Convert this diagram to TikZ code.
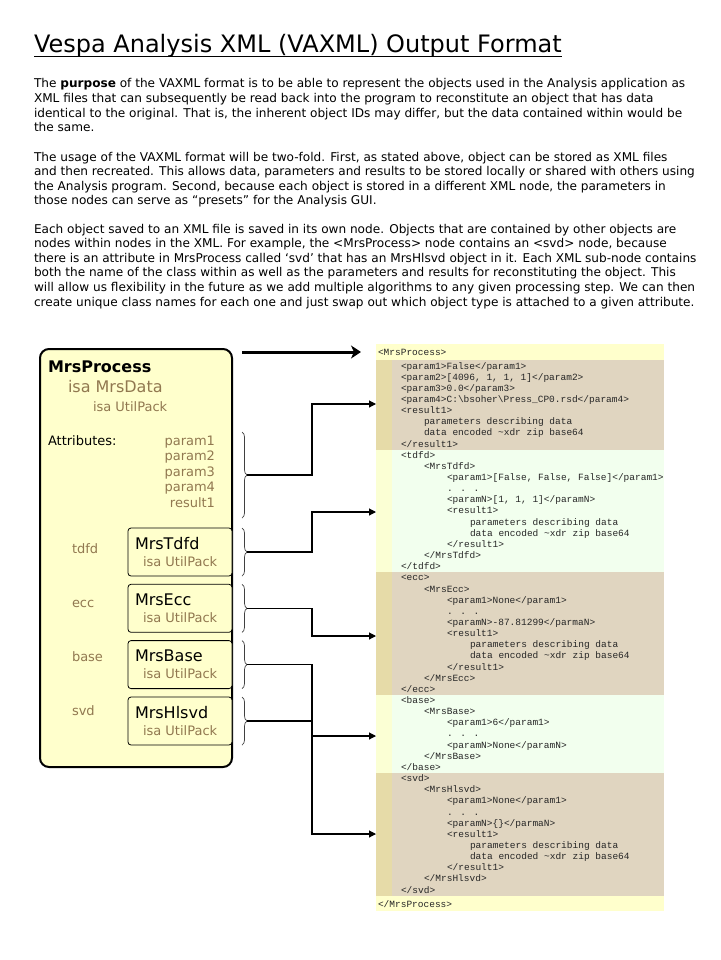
\documentclass[tikz,border=0pt]{standalone}
\usepackage{fontspec}
\setmainfont{DejaVu Sans}
\newfontfamily\xmlfont{Liberation Mono}
\usetikzlibrary{positioning, calc, arrows.meta, decorations.pathreplacing}

\definecolor{boxfill}{RGB}{255,255,204}
\definecolor{tantext}{RGB}{145,120,80}
\definecolor{xmltop}{RGB}{255,255,204}
\definecolor{xmltan}{RGB}{224,213,192}
\definecolor{xmltanstrip}{RGB}{230,219,168}
\definecolor{xmlgreen}{RGB}{242,255,238}
\definecolor{xmlgreenstrip}{RGB}{251,255,212}

\begin{document}
\begin{tikzpicture}[x=1pt, y=-1pt,
  every node/.style={inner sep=0pt, outer sep=0pt},
  para/.style={anchor=base west, align=left, font=\fontsize{12.1}{14.6}\selectfont},
  bigname/.style={anchor=base west, font=\fontsize{16}{18}\selectfont},
  small/.style={anchor=base west, font=\fontsize{13}{15}\selectfont},
  isa/.style={small, text=tantext},
  attr/.style={anchor=base east, font=\fontsize{13}{15}\selectfont, text=tantext},
  subbox/.style={draw, line width=0.8pt, rounded corners=3pt, fill=boxfill, anchor=north west, minimum width=104pt, minimum height=48pt},
  xmltxt/.style={anchor=base west, font=\xmlfont\fontsize{9.5}{11}\selectfont, text=black!85},
  bracket/.style={decorate, decoration={brace, amplitude=5pt}, line width=0.7pt, black!75},
  conn/.style={line width=1.1pt, -{Triangle[length=7pt, width=7pt]}}
]
  \fill[white] (0,0) rectangle (720,960);
  \useasboundingbox (0,0) rectangle (720,960);

  % title and text (para nodes sit on their last line)
  \node[anchor=base west, font=\fontsize{24}{28}\selectfont] (title) at (34,53) {Vespa Analysis XML (VAXML) Output Format};
  \draw[line width=1pt] ([yshift=-4pt]title.base west) -- ([yshift=-4pt]title.base east);

  \node[para] (purpose) at (34,131.8) {The \textbf{purpose} of the VAXML format is to be able to represent the objects used in the Analysis application as\\
    XML files that can subsequently be read back into the program to reconstitute an object that has data\\
    identical to the original. That is, the inherent object IDs may differ, but the data contained within would be\\
    the same.};
  \node[para] (usage) at (34,204.8) {The usage of the VAXML format will be two-fold. First, as stated above, object can be stored as XML files\\
    and then recreated. This allows data, parameters and results to be stored locally or shared with others using\\
    the Analysis program. Second, because each object is stored in a different XML node, the parameters in\\
    those nodes can serve as “presets” for the Analysis GUI.};
  \node[para] (nesting) at (34,306) {Each object saved to an XML file is saved in its own node. Objects that are contained by other objects are\\
    nodes within nodes in the XML. For example, the <MrsProcess> node contains an <svd> node, because\\
    there is an attribute in MrsProcess called ‘svd’ that has an MrsHlsvd object in it. Each XML sub-node contains\\
    both the name of the class within as well as the parameters and results for reconstituting the object. This\\
    will allow us flexibility in the future as we add multiple algorithms to any given processing step. We can then\\
    create unique class names for each one and just swap out which object type is attached to a given attribute.};

  % object box
  \node[draw, line width=2pt, rounded corners=9pt, fill=boxfill, anchor=north west, minimum width=192pt, minimum height=418pt] (proc) at (40,349) {};
  \node[bigname, font=\fontsize{16}{18}\selectfont\bfseries] (procname) at (48,372) {MrsProcess};
  \node[bigname, text=tantext] (procisa) at (68,392) {isa MrsData};
  \node[isa] (procutil) at (93,411) {isa UtilPack};
  \node[small] (attrlabel) at (48,445) {Attributes:};
  \foreach \attr/\y in {param1/445, param2/460.5, param3/476, param4/491.5, result1/507}
    \node[attr] (\attr) at (215,\y) {\attr};

  \draw[bracket] (242,432) -- (242,518);
  \coordinate (attr tip) at (247,475);
  \coordinate (attr end) at (376,404);
  \draw[conn] (attr tip) -- ++(65,0) |- (attr end);

  \foreach \key/\cls/\top/\lab/\tgt in {tdfd/MrsTdfd/528/553/512, ecc/MrsEcc/584.3/607/636, base/MrsBase/640.6/661/736, svd/MrsHlsvd/697/715/834} {
    \node[isa] (\key label) at (72,\lab) {\key};
    \node[subbox] (\key box) at (128,\top) {};
    \node[bigname] (\key name) at ([xshift=7pt, yshift=-21pt]\key box.north west) {\cls};
    \node[isa] (\key util) at ([xshift=15pt, yshift=-38pt]\key box.north west) {isa UtilPack};
    \draw[bracket] (242,\top) -- (242,{\top+48});
    \coordinate (\key tip) at (247,{\top+24});
    \coordinate (\key end) at (376,\tgt);
    \draw[conn] (\key tip) -- ++(65,0) |- (\key end);
  }

  % xml listing
  \fill[xmltop] (376,344) rectangle (664,360.4);
  \foreach \a/\b/\band/\strip in {360.4/449.6/xmltan/xmltanstrip, 449.6/572.3/xmlgreen/xmlgreenstrip,
      572.3/694.9/xmltan/xmltanstrip, 694.9/773/xmlgreen/xmlgreenstrip, 773/895.6/xmltan/xmltanstrip} {
    \fill[fill=\band] (376,\a) rectangle (664,\b);
    \fill[fill=\strip] (376,\a) rectangle (392,\b);
  }
  \fill[xmltop] (376,895.6) rectangle (664,911);

  \node[xmltxt] (xml1) at (378,355) {<MrsProcess>};
  \foreach \lvl/\txt [count=\i from 2] in {
      1/{<param1>False</param1>}, 1/{<param2>[4096, 1, 1, 1]</param2>}, 1/{<param3>0.0</param3>},
      1/{<param4>C:\textbackslash bsoher\textbackslash Press\_CP0.rsd</param4>}, 1/{<result1>},
      2/{parameters describing data}, 2/{data encoded \textasciitilde xdr zip base64}, 1/{</result1>},
      1/{<tdfd>}, 2/{<MrsTdfd>}, 3/{<param1>[False, False, False]</param1>}, 3/{. . .},
      3/{<paramN>[1, 1, 1]</paramN>}, 3/{<result1>}, 4/{parameters describing data},
      4/{data encoded \textasciitilde xdr zip base64}, 3/{</result1>}, 2/{</MrsTdfd>}, 1/{</tdfd>},
      1/{<ecc>}, 2/{<MrsEcc>}, 3/{<param1>None</param1>}, 3/{. . .}, 3/{<paramN>-87.81299</parmaN>},
      3/{<result1>}, 4/{parameters describing data}, 4/{data encoded \textasciitilde xdr zip base64},
      3/{</result1>}, 2/{</MrsEcc>}, 1/{</ecc>},
      1/{<base>}, 2/{<MrsBase>}, 3/{<param1>6</param1>}, 3/{. . .}, 3/{<paramN>None</paramN>},
      2/{</MrsBase>}, 1/{</base>},
      1/{<svd>}, 2/{<MrsHlsvd>}, 3/{<param1>None</param1>}, 3/{. . .}, 3/{<paramN>\{\}</parmaN>},
      3/{<result1>}, 4/{parameters describing data}, 4/{data encoded \textasciitilde xdr zip base64},
      3/{</result1>}, 2/{</MrsHlsvd>}, 1/{</svd>}}
    \node[xmltxt] (xml\i) at ({378+23*\lvl},{369+11.15*(\i-2)}) {\txt};
  \node[xmltxt] (xml50) at (378,907) {</MrsProcess>};

  \coordinate (flow start) at (242,352);
  \coordinate (flow end) at (361,352);
  \draw[line width=3pt, -{Stealth[length=10pt, width=13pt, inset=3pt]}] (flow start) -- (flow end);
\end{tikzpicture}
\end{document}
